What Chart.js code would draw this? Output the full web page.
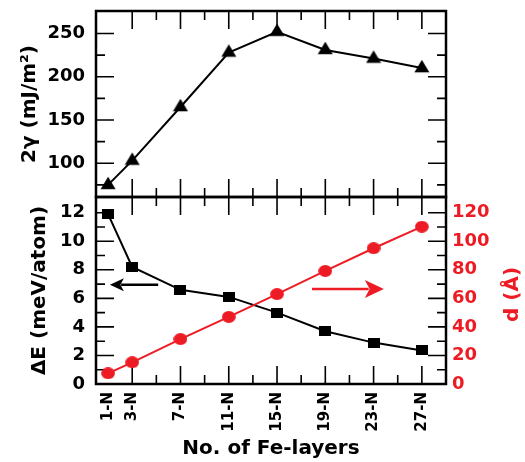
<!DOCTYPE html>
<html><head><meta charset="utf-8">
<script src="https://cdn.jsdelivr.net/npm/chart.js@4.4.0/dist/chart.umd.min.js"></script>
<style>
html,body{margin:0;padding:0;background:#fff;}
#wrap{position:relative;width:525px;height:462px;}
#wrap canvas{position:absolute;left:0;top:0;}
</style></head><body>
<div id="wrap"><canvas id="topChart" width="525" height="462"></canvas><canvas id="botChart" width="525" height="462"></canvas></div>
<script>
// ---- data ----
const categories = ['1-N','3-N','7-N','11-N','15-N','19-N','23-N','27-N'];
const layers = [1,3,7,11,15,19,23,27];
const gamma2 = [75,103,165,228,252,231,221,210];          // 2γ (mJ/m²)
const deltaE = [11.9,8.2,6.6,6.1,5.0,3.7,2.9,2.35];       // ΔE (meV/atom)
const dSpacing = [7.5,15.2,31.5,47,63,79.2,95.1,110.2];   // d (Å)
const gammaTicks = [100,150,200,250];
const gammaMinor = [75,125,175,225];
const deltaETicks = [0,2,4,6,8,10,12];
const deltaEMinor = [1,3,5,7,9,11];
const dTicks = [0,20,40,60,80,100,120];
const xMajor = [3,7,11,15,19,23,27];
const xMinor = [5,9,13,17,21,25];
const arrowLeft = [5.15, 6.95, 1.15, 6.95];     // x0,y0 -> x1,y1 (ΔE axis)
const arrowRight = [17.9, 66.5, 23.85, 66.5];   // x0,y0 -> x1,y1 (d axis)
const titleGamma = '2γ (mJ/m²)';
const titleDE = 'ΔE (meV/atom)';
const titleD = 'd (Å)';
const titleX = 'No. of Fe-layers';

const RED = '#ed1c24';
const FONT = "'DejaVu Sans', sans-serif";

function makeMarker(kind, color){
  const c = document.createElement('canvas');
  let w, h;
  if (kind === 'tri') { w = 16; h = 18; } else if (kind === 'sq') { w = 12; h = 10; } else { w = 14; h = 12; }
  c.width = w; c.height = h;
  const g = c.getContext('2d');
  g.fillStyle = color;
  if (kind === 'tri') {
    g.beginPath(); g.moveTo(8, 0.7); g.lineTo(15.5, 13.2); g.lineTo(0.5, 13.2); g.closePath(); g.fill();
  } else if (kind === 'sq') {
    g.fillRect(0, 0, w, h);
  } else {
    g.beginPath(); g.ellipse(7, 6, 6.9, 5.9, 0, 0, Math.PI * 2); g.fill();
  }
  return c;
}

const noPad = s => { s.paddingTop = 0; s.paddingBottom = 0; s.paddingLeft = 0; s.paddingRight = 0; };

const framePlugin = {
  id: 'frame',
  beforeDatasetsDraw(chart, args, opts) {
    const {ctx, chartArea: a} = chart;
    const xs = chart.scales.x, ys = chart.scales[opts.yScale];
    ctx.save();
    ctx.strokeStyle = '#000';
    ctx.lineWidth = 1.6;
    const L = 18, S = 9;
    ctx.beginPath();
    xMajor.forEach(v => { const p = xs.getPixelForValue(v);
      ctx.moveTo(p, a.top); ctx.lineTo(p, a.top + L); ctx.moveTo(p, a.bottom); ctx.lineTo(p, a.bottom - L); });
    xMinor.forEach(v => { const p = xs.getPixelForValue(v);
      ctx.moveTo(p, a.top); ctx.lineTo(p, a.top + S); ctx.moveTo(p, a.bottom); ctx.lineTo(p, a.bottom - S); });
    opts.yMajor.forEach(v => { const p = ys.getPixelForValue(v);
      ctx.moveTo(a.left, p); ctx.lineTo(a.left + L, p); ctx.moveTo(a.right, p); ctx.lineTo(a.right - L, p); });
    opts.yMinor.forEach(v => { const p = ys.getPixelForValue(v);
      ctx.moveTo(a.left, p); ctx.lineTo(a.left + S, p); ctx.moveTo(a.right, p); ctx.lineTo(a.right - S, p); });
    ctx.stroke();
    ctx.lineWidth = 2.5;
    ctx.strokeRect(a.left, a.top, a.right - a.left, a.bottom - a.top);
    ctx.restore();
  }
};

function drawArrow(ctx, x0, y0, x1, y1, color, headLen, headHalf, width) {
  const dir = Math.sign(x1 - x0);
  ctx.save();
  ctx.strokeStyle = color; ctx.fillStyle = color; ctx.lineWidth = width;
  ctx.beginPath(); ctx.moveTo(x0, y0); ctx.lineTo(x1 - dir * headLen * 0.8, y1); ctx.stroke();
  ctx.beginPath(); ctx.moveTo(x1, y1); ctx.lineTo(x1 - dir * headLen, y1 - headHalf);
  ctx.lineTo(x1 - dir * headLen * 0.75, y1); ctx.lineTo(x1 - dir * headLen, y1 + headHalf); ctx.closePath(); ctx.fill();
  ctx.restore();
}

const annoPlugin = {
  id: 'anno',
  afterDatasetsDraw(chart) {
    const {ctx, chartArea: a} = chart;
    const xs = chart.scales.x, yl = chart.scales.y, yr = chart.scales.y1;
    drawArrow(ctx, xs.getPixelForValue(arrowLeft[0]), yl.getPixelForValue(arrowLeft[1]),
      xs.getPixelForValue(arrowLeft[2]), yl.getPixelForValue(arrowLeft[3]), '#000', 14, 6.5, 2.5);
    drawArrow(ctx, xs.getPixelForValue(arrowRight[0]), yr.getPixelForValue(arrowRight[1]),
      xs.getPixelForValue(arrowRight[2]), yr.getPixelForValue(arrowRight[3]), RED, 19, 9, 2.5);
    // right axis title, reading bottom-to-top
    ctx.save();
    ctx.translate(a.right + 67, (a.top + a.bottom) / 2 + 4);
    ctx.rotate(-Math.PI / 2);
    ctx.fillStyle = RED;
    ctx.font = 'bold 20px ' + FONT;
    ctx.textAlign = 'center'; ctx.textBaseline = 'middle';
    ctx.fillText(titleD, 0, 0);
    ctx.restore();
  }
};

const common = {
  responsive: false, animation: false, devicePixelRatio: 1,
  plugins: { legend: { display: false }, tooltip: { enabled: false } }
};

// ---- top panel ----
new Chart(document.getElementById('topChart'), {
  type: 'line',
  data: { datasets: [{
    data: layers.map((x, i) => ({x, y: gamma2[i]})),
    borderColor: '#000', borderWidth: 2, tension: 0,
    pointStyle: makeMarker('tri', '#000'), pointRadius: 7
  }]},
  options: Object.assign({}, common, {
    layout: { padding: { top: 11, bottom: 265, left: 0, right: 79 } },
    plugins: Object.assign({}, common.plugins, { frame: { yScale: 'y', yMajor: gammaTicks, yMinor: gammaMinor } }),
    scales: {
      x: { type: 'linear', min: 0, max: 29, display: false },
      y: {
        min: 61, max: 276,
        afterBuildTicks: s => { s.ticks = gammaTicks.map(v => ({value: v})); },
        afterFit: s => { s.width = 96; noPad(s); },
        grid: { display: false, drawTicks: false },
        border: { display: false },
        ticks: { color: '#000', padding: 11, font: { family: FONT, size: 18, weight: 'bold' } },
        title: { display: true, text: titleGamma, color: '#000', padding: { top: 18, bottom: 0 },
          font: { family: FONT, size: 20, weight: 'bold' } }
      }
    }
  }),
  plugins: [framePlugin]
});

// ---- bottom panel ----
new Chart(document.getElementById('botChart'), {
  type: 'line',
  data: { datasets: [
    { data: layers.map((x, i) => ({x, y: dSpacing[i]})), yAxisID: 'y1',
      borderColor: RED, borderWidth: 2, tension: 0,
      pointStyle: makeMarker('circ', RED), pointRadius: 7 },
    { data: layers.map((x, i) => ({x, y: deltaE[i]})), yAxisID: 'y',
      borderColor: '#000', borderWidth: 2, tension: 0,
      pointStyle: makeMarker('sq', '#000'), pointRadius: 6 }
  ]},
  options: Object.assign({}, common, {
    layout: { padding: { top: 197, bottom: 0, left: 0, right: 0 } },
    plugins: Object.assign({}, common.plugins, { frame: { yScale: 'y', yMajor: deltaETicks, yMinor: deltaEMinor } }),
    scales: {
      x: {
        type: 'linear', min: 0, max: 29,
        afterBuildTicks: s => { s.ticks = layers.map(v => ({value: v})); },
        afterFit: s => { s.height = 78; noPad(s); },
        grid: { display: false, drawTicks: false },
        border: { display: false },
        ticks: { color: '#000', padding: 8, autoSkip: false, minRotation: 90, maxRotation: 90,
          font: { family: FONT, size: 15, weight: 'bold' },
          callback: v => categories[layers.indexOf(v)] },
        title: { display: true, text: titleX, color: '#000', padding: { top: 0, bottom: 1 },
          font: { family: FONT, size: 20, weight: 'bold' } }
      },
      y: {
        position: 'left', min: 0, max: 13.1,
        afterBuildTicks: s => { s.ticks = deltaETicks.map(v => ({value: v})); },
        afterFit: s => { s.width = 96; noPad(s); },
        grid: { display: false, drawTicks: false },
        border: { display: false },
        ticks: { color: '#000', padding: 11, font: { family: FONT, size: 18, weight: 'bold' } },
        title: { display: true, text: titleDE, color: '#000', padding: { top: 28, bottom: 0 },
          font: { family: FONT, size: 20, weight: 'bold' } }
      },
      y1: {
        position: 'right', min: 0, max: 131,
        afterBuildTicks: s => { s.ticks = dTicks.map(v => ({value: v})); },
        afterFit: s => { s.width = 79; noPad(s); },
        grid: { display: false, drawTicks: false },
        border: { display: false },
        ticks: { color: RED, padding: 6, font: { family: FONT, size: 18, weight: 'bold' } }
      }
    }
  }),
  plugins: [framePlugin, annoPlugin]
});
</script>
</body></html>
